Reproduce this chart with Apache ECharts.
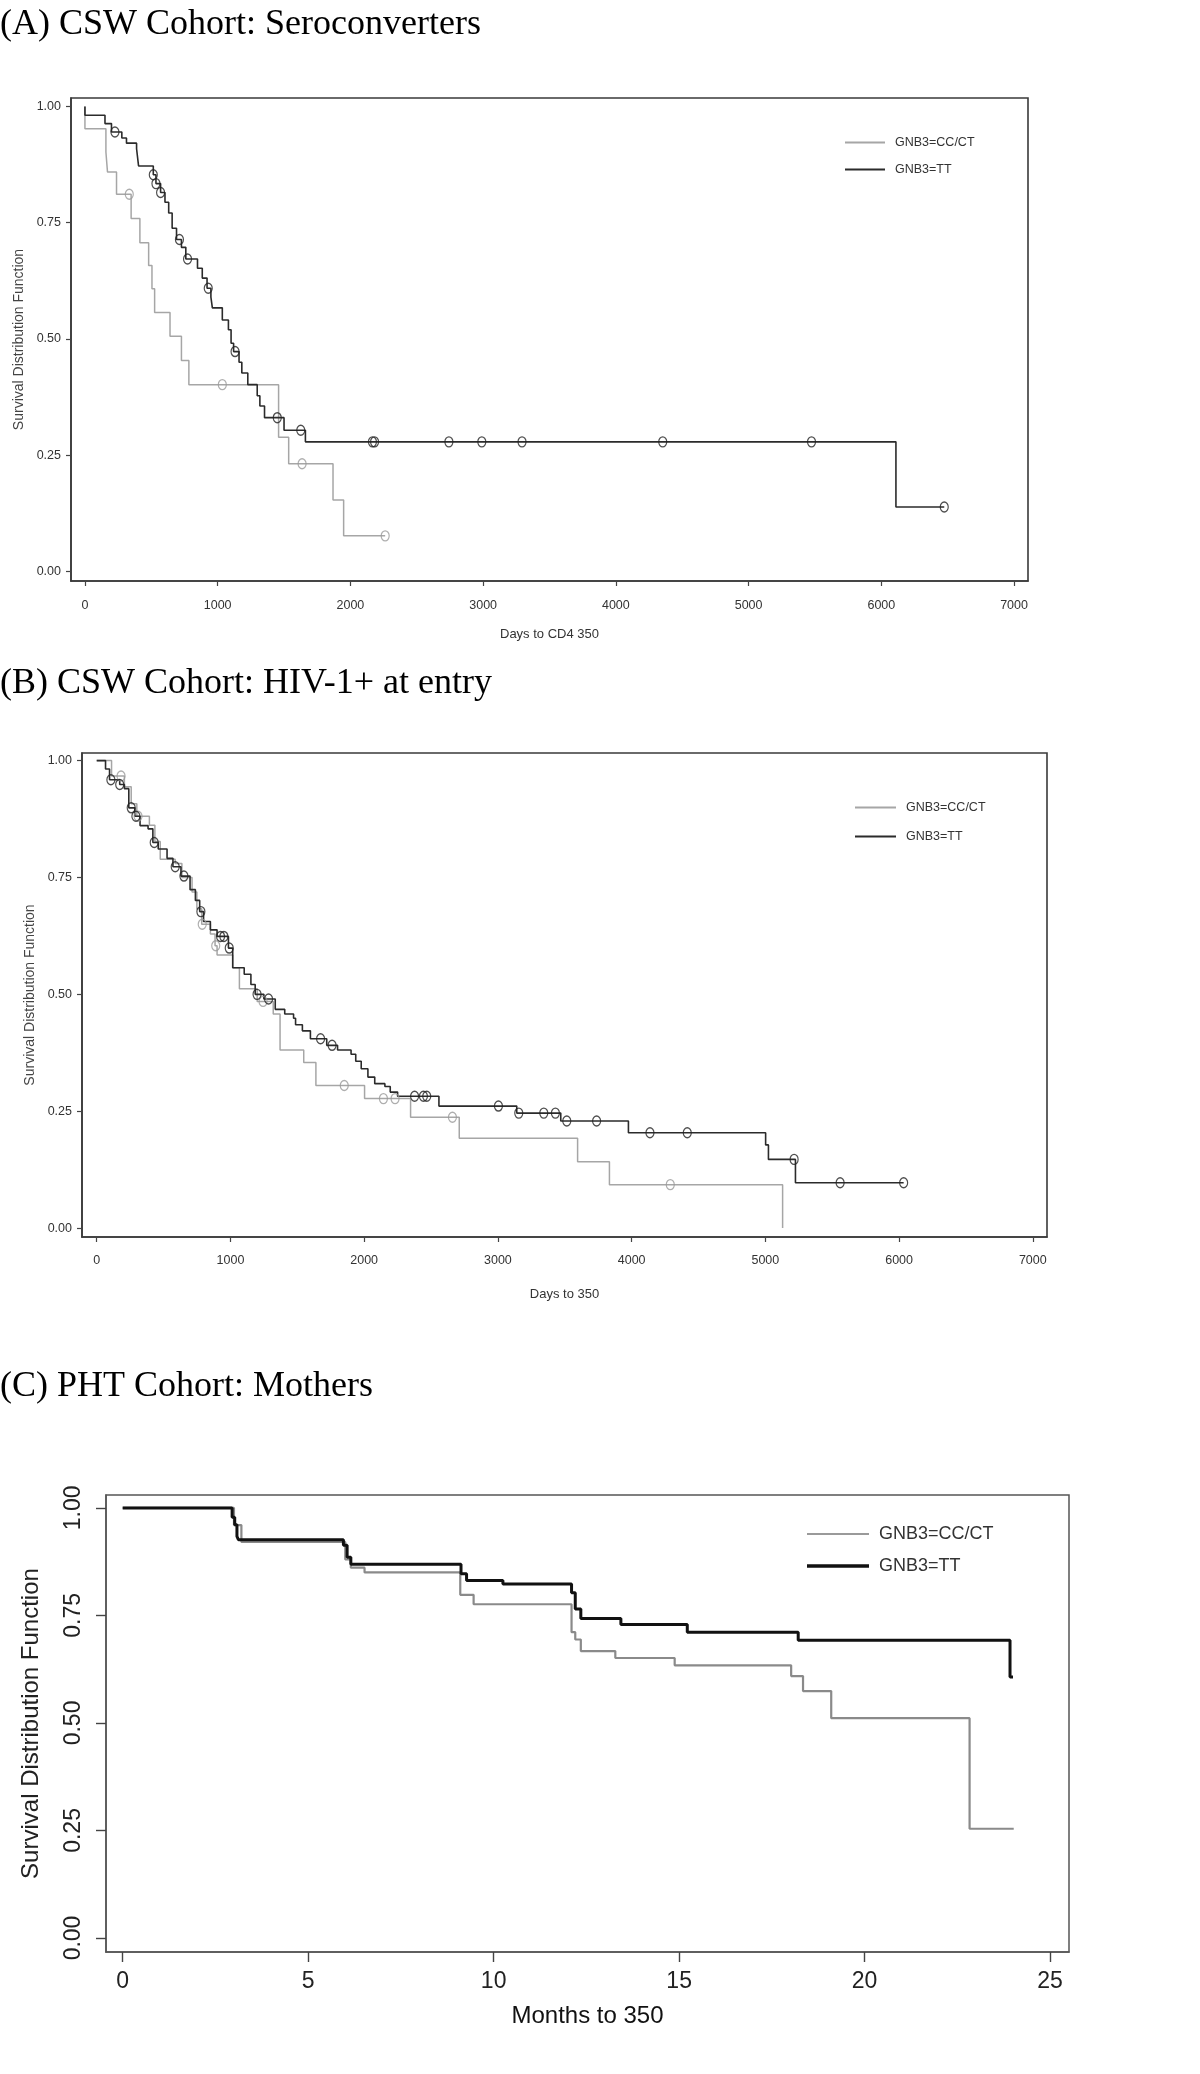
<!DOCTYPE html>
<html><head><meta charset="utf-8">
<script src="https://cdn.jsdelivr.net/npm/echarts@6/dist/echarts.min.js"></script>
<style>html,body{margin:0;padding:0;background:#fff;}.p{position:absolute;left:0;width:1200px;}</style>
</head><body>
<div id="a" class="p" style="top:0;height:660px"></div>
<div id="b" class="p" style="top:660px;height:680px"></div>
<div id="c" class="p" style="top:1340px;height:734px"></div>
<script>
// ---------- Panel texts and ticks ----------
const titles = ['(A) CSW Cohort: Seroconverters', '(B) CSW Cohort: HIV-1+ at entry', '(C) PHT Cohort: Mothers'];
const seriesNames = ['GNB3=CC/CT', 'GNB3=TT'];
const yAxisName = 'Survival Distribution Function';
const xAxisNames = ['Days to CD4 350', 'Days to 350', 'Months to 350'];
const xTicksDays = [0, 1000, 2000, 3000, 4000, 5000, 6000, 7000];
const xTicksMonths = [0, 5, 10, 15, 20, 25];
const yTicks = [0, 0.25, 0.5, 0.75, 1.0];

// ---------- (A) Seroconverters ----------
const A_CC_time = [0, 0, 158, 170, 238, 348, 414, 480, 505, 525, 641, 727, 783, 1459, 1535, 1869, 1949, 2262];
const A_CC_surv = [1.0, 0.952, 0.902, 0.859, 0.811, 0.759, 0.707, 0.658, 0.608, 0.557, 0.506, 0.454, 0.402, 0.289, 0.232, 0.154, 0.077, 0.077];
const A_CC_cens_time = [334, 1035, 1636, 2262];
const A_CC_cens_surv = [0.811, 0.402, 0.232, 0.077];
const A_TT_time = [0, 0, 151, 200, 278, 313, 389, 404, 515, 535, 570, 603, 631, 657, 690, 727, 760, 848, 884, 920, 949, 960, 1035, 1081, 1101, 1120, 1161, 1182, 1227, 1298, 1318, 1353, 1500, 1661, 6110, 6474];
const A_TT_surv = [1.0, 0.981, 0.963, 0.945, 0.932, 0.921, 0.909, 0.872, 0.853, 0.834, 0.815, 0.794, 0.771, 0.738, 0.714, 0.697, 0.672, 0.652, 0.631, 0.609, 0.590, 0.567, 0.541, 0.520, 0.491, 0.473, 0.450, 0.427, 0.402, 0.378, 0.356, 0.331, 0.304, 0.279, 0.139, 0.139];
const A_TT_cens_time = [226, 515, 535, 570, 712, 773, 929, 1131, 1449, 1626, 2166, 2182, 2742, 2990, 3293, 4353, 5474, 6474];
const A_TT_cens_surv = [0.945, 0.853, 0.834, 0.815, 0.714, 0.672, 0.609, 0.473, 0.331, 0.304, 0.279, 0.279, 0.279, 0.279, 0.279, 0.279, 0.279, 0.139];

// ---------- (B) HIV-1+ at entry ----------
const B_CC_time = [0, 111, 207, 258, 300, 394, 435, 475, 587, 637, 713, 749, 785, 850, 885, 900, 1017, 1067, 1200, 1320, 1371, 1548, 1639, 2003, 2347, 2711, 3596, 3834, 5129, 5129];
const B_CC_surv = [1.0, 0.967, 0.944, 0.908, 0.881, 0.862, 0.827, 0.789, 0.780, 0.750, 0.719, 0.683, 0.650, 0.629, 0.604, 0.584, 0.557, 0.512, 0.485, 0.458, 0.381, 0.354, 0.305, 0.277, 0.237, 0.192, 0.142, 0.093, 0.093, 0.0];
const B_CC_cens_time = [182, 309, 789, 890, 1244, 1851, 2144, 2231, 2660, 4289];
const B_CC_cens_surv = [0.967, 0.881, 0.650, 0.604, 0.485, 0.305, 0.277, 0.277, 0.237, 0.093];
const B_TT_time = [0, 66, 96, 172, 207, 240, 285, 324, 384, 420, 460, 526, 570, 630, 698, 738, 770, 799, 850, 900, 985, 1017, 1103, 1153, 1185, 1250, 1335, 1406, 1472, 1487, 1538, 1598, 1720, 1801, 1902, 1937, 1978, 2028, 2079, 2155, 2195, 2250, 2559, 3141, 3470, 3976, 5002, 5023, 5225, 6034];
const B_TT_surv = [1.0, 0.982, 0.959, 0.949, 0.940, 0.899, 0.881, 0.861, 0.854, 0.825, 0.811, 0.791, 0.773, 0.753, 0.724, 0.701, 0.677, 0.656, 0.638, 0.624, 0.599, 0.557, 0.543, 0.521, 0.500, 0.490, 0.468, 0.458, 0.449, 0.435, 0.422, 0.405, 0.391, 0.381, 0.372, 0.357, 0.341, 0.323, 0.309, 0.303, 0.291, 0.282, 0.261, 0.246, 0.229, 0.204, 0.178, 0.147, 0.097, 0.097];
const B_TT_cens_time = [106, 172, 258, 293, 430, 587, 652, 779, 926, 951, 991, 1199, 1285, 1674, 1760, 2377, 2443, 2468, 3004, 3156, 3343, 3430, 3515, 3738, 4137, 4416, 5215, 5559, 6034];
const B_TT_cens_surv = [0.959, 0.949, 0.899, 0.881, 0.825, 0.773, 0.753, 0.677, 0.624, 0.624, 0.599, 0.500, 0.490, 0.405, 0.391, 0.282, 0.282, 0.282, 0.261, 0.246, 0.246, 0.246, 0.229, 0.229, 0.204, 0.204, 0.147, 0.097, 0.097];

// ---------- (C) PHT Mothers ----------
const C_CC_time = [0, 3.0, 3.2, 6.0, 6.15, 6.52, 9.1, 9.46, 12.1, 12.2, 12.35, 13.28, 14.88, 18.02, 18.34, 19.10, 22.83, 24.02];
const C_CC_surv = [1.0, 0.96, 0.921, 0.880, 0.861, 0.850, 0.798, 0.776, 0.711, 0.694, 0.667, 0.651, 0.634, 0.609, 0.574, 0.511, 0.254, 0.254];
const C_TT_time = [0, 2.95, 3.02, 3.08, 3.12, 5.95, 6.05, 6.15, 9.12, 9.27, 10.25, 12.1, 12.2, 12.35, 13.43, 15.22, 18.21, 23.92, 24.0];
const C_TT_surv = [1.0, 0.978, 0.961, 0.934, 0.926, 0.913, 0.885, 0.869, 0.847, 0.831, 0.823, 0.803, 0.765, 0.743, 0.729, 0.711, 0.692, 0.607, 0.607];

const zip = (t, s) => t.map((v, i) => [v, s[i]]);

function stepSeries(name, t, s, color, width) {
  return { name, type: 'line', step: 'end', symbol: 'none', showSymbol: false, data: zip(t, s),
    lineStyle: { color, width }, itemStyle: { color }, animation: false, z: 3 };
}
function censSeries(t, s, color) {
  return { name: 'censored', type: 'scatter', data: zip(t, s), symbol: 'circle', symbolSize: [8, 10],
    itemStyle: { color: 'rgba(0,0,0,0)', borderColor: color, borderWidth: 1.3 }, animation: false, z: 4,
    silent: true };
}

const sansFont = '"Liberation Sans", Arial, sans-serif';
const serifFont = '"Liberation Serif", "Times New Roman", serif';

function lineLegend(name, left, top, w, h, color, fontSize) {
  return { data: [{ name, icon: 'rect', itemStyle: { color } }], orient: 'vertical', left, top,
    itemWidth: w, itemHeight: h, padding: 0,
    textStyle: { fontFamily: sansFont, fontSize, color: '#333', padding: [0, 0, 0, 5] } };
}

function sasPanel(el, cfg) {
  const ch = echarts.init(document.getElementById(el), null, { renderer: 'canvas' });
  const frame = { color: '#3a3a3a', width: 1.6 };
  ch.setOption({
    backgroundColor: '#fff',
    animation: false,
    title: { text: cfg.title, left: 0, top: cfg.titleTop, padding: 0,
      textStyle: { fontFamily: serifFont, fontSize: 36, fontWeight: 'normal', color: '#000' } },
    legend: [
      lineLegend(seriesNames[0], cfg.legLeft, cfg.legRows[0] - 5, cfg.legW, 2, '#a6a6a6', 12.5),
      lineLegend(seriesNames[1], cfg.legLeft, cfg.legRows[1] - 5, cfg.legW, 2, '#2b2b2b', 12.5)
    ],
    grid: { left: cfg.grid[0], top: cfg.grid[1], width: cfg.grid[2], height: cfg.grid[3],
      show: true, borderColor: frame.color, borderWidth: frame.width, backgroundColor: 'transparent' },
    xAxis: { type: 'value', min: cfg.xMin, max: cfg.xMax, splitLine: { show: false },
      axisLine: { show: true, onZero: false, lineStyle: frame },
      axisTick: { show: true, inside: false, length: 5, customValues: xTicksDays, lineStyle: { color: '#444', width: 1.2 } },
      axisLabel: { customValues: xTicksDays, margin: cfg.xLabMargin, fontFamily: sansFont, fontSize: 12.5, color: '#333',
        formatter: v => String(v) },
      name: cfg.xName, nameLocation: 'middle', nameGap: cfg.xNameGap,
      nameTextStyle: { fontFamily: sansFont, fontSize: 13, color: '#333' } },
    yAxis: { type: 'value', min: cfg.yMin, max: cfg.yMax, splitLine: { show: false },
      axisLine: { show: true, onZero: false, lineStyle: frame },
      axisTick: { show: true, inside: false, length: 5, customValues: yTicks, lineStyle: { color: '#444', width: 1.2 } },
      axisLabel: { customValues: yTicks, margin: cfg.yLabMargin, fontFamily: sansFont, fontSize: 12.5, color: '#333',
        formatter: v => v.toFixed(2) },
      name: yAxisName, nameLocation: 'middle', nameGap: cfg.yNameGap, nameRotate: 90,
      nameTextStyle: { fontFamily: sansFont, fontSize: 14, color: '#444' } },
    series: [
      stepSeries(seriesNames[0], cfg.cc[0], cfg.cc[1], '#a6a6a6', 1.5),
      stepSeries(seriesNames[1], cfg.tt[0], cfg.tt[1], '#2b2b2b', 1.6),
      censSeries(cfg.ccC[0], cfg.ccC[1], '#9a9a9a'),
      censSeries(cfg.ttC[0], cfg.ttC[1], '#222')
    ]
  });
}

sasPanel('a', { title: titles[0], titleTop: 7, legLeft: 845, legRows: [141, 168], legW: 40,
  grid: [71, 98, 957, 483], xMin: -105, xMax: 7105, yMin: -0.02, yMax: 1.018,
  xName: xAxisNames[0], xNameGap: 47, yNameGap: 31, xLabMargin: 18, yLabMargin: 10,
  cc: [A_CC_time, A_CC_surv], tt: [A_TT_time, A_TT_surv],
  ccC: [A_CC_cens_time, A_CC_cens_surv], ttC: [A_TT_cens_time, A_TT_cens_surv] });

sasPanel('b', { title: titles[1], titleTop: 6, legLeft: 855, legRows: [146, 175], legW: 41,
  grid: [82, 93, 965, 484], xMin: -110, xMax: 7106, yMin: -0.019, yMax: 1.0163,
  xName: xAxisNames[1], xNameGap: 51, yNameGap: 36, xLabMargin: 17, yLabMargin: 10,
  cc: [B_CC_time, B_CC_surv], tt: [B_TT_time, B_TT_surv],
  ccC: [B_CC_cens_time, B_CC_cens_surv], ttC: [B_TT_cens_time, B_TT_cens_surv] });

// ---------- (C) R-style panel ----------
(function () {
  const ch = echarts.init(document.getElementById('c'), null, { renderer: 'canvas' });
  const frame = { color: '#555', width: 1.5 };
  ch.setOption({
    backgroundColor: '#fff',
    animation: false,
    title: { text: titles[2], left: 0, top: 29, padding: 0,
      textStyle: { fontFamily: serifFont, fontSize: 36, fontWeight: 'normal', color: '#000' } },
    legend: [
      lineLegend(seriesNames[0], 807, 193 - 8, 62, 2, '#9a9a9a', 18),
      lineLegend(seriesNames[1], 807, 225 - 8, 62, 3.5, '#111', 18)
    ],
    grid: { left: 106, top: 155, width: 963, height: 457, show: true,
      borderColor: frame.color, borderWidth: frame.width, backgroundColor: 'transparent' },
    xAxis: { type: 'value', min: -0.45, max: 25.51, splitLine: { show: false },
      axisLine: { show: true, onZero: false, lineStyle: frame },
      axisTick: { show: true, inside: false, length: 10, customValues: xTicksMonths, lineStyle: { color: '#444', width: 1.4 } },
      axisLabel: { customValues: xTicksMonths, margin: 18, fontFamily: sansFont, fontSize: 23, color: '#222' },
      name: xAxisNames[2], nameLocation: 'middle', nameGap: 52,
      nameTextStyle: { fontFamily: sansFont, fontSize: 24, color: '#111' } },
    yAxis: { type: 'value', min: -0.0326, max: 1.03, splitLine: { show: false },
      axisLine: { show: true, onZero: false, lineStyle: frame },
      axisTick: { show: true, inside: false, length: 10, customValues: yTicks, lineStyle: { color: '#444', width: 1.4 } },
      axisLabel: { customValues: yTicks, margin: 21, rotate: 90, fontFamily: sansFont, fontSize: 23, color: '#222',
        formatter: v => v.toFixed(2) },
      name: yAxisName, nameLocation: 'middle', nameGap: 63, nameRotate: 90,
      nameTextStyle: { fontFamily: sansFont, fontSize: 24, color: '#222' } },
    series: [
      stepSeries(seriesNames[0], C_CC_time, C_CC_surv, '#8a8a8a', 2.2),
      stepSeries(seriesNames[1], C_TT_time, C_TT_surv, '#111', 3)
    ]
  });
})();
</script>
</body></html>
